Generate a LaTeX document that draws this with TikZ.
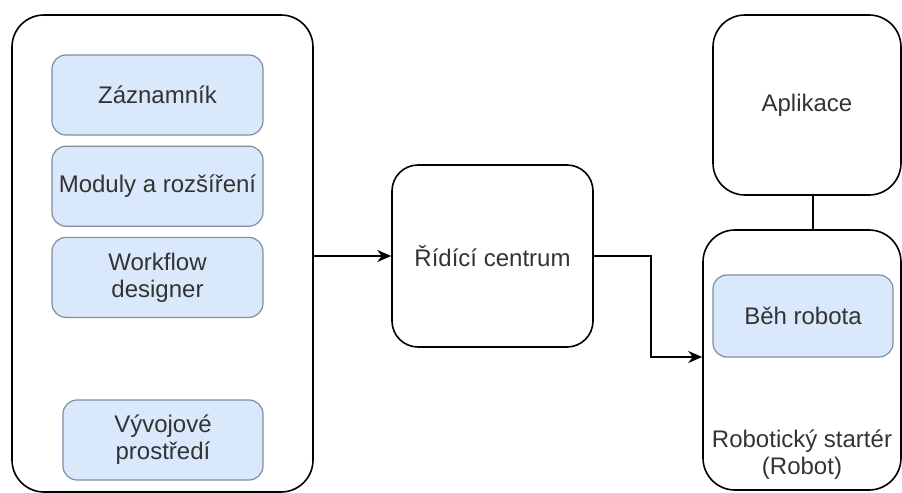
\documentclass[tikz,border=0pt]{standalone}
\usepackage{fontspec}
\setmainfont{Liberation Sans}
\usetikzlibrary{arrows.meta, positioning}

\definecolor{partfill}{HTML}{DAE8FC}
\definecolor{partline}{HTML}{7F8EA3}
\definecolor{labeltext}{HTML}{333333}

\begin{document}
\begin{tikzpicture}[
    x=0.5pt, y=-0.5pt,
    font=\fontsize{12}{13.5}\selectfont, text=labeltext,
    container/.style={draw, line width=0.8pt, rounded corners=16pt},
    part/.style={draw=partline, fill=partfill, line width=0.6pt, rounded corners=7pt,
                 inner xsep=1pt, minimum width=105.5pt, minimum height=40pt, align=center},
    >={Stealth[length=7pt, width=6pt]}
]
\useasboundingbox (0,0) rectangle (902,493);

% Nodes
\node[container, minimum width=150.5pt, minimum height=238.5pt] (studio) at (162.5,253.5) {};
\node[part] (zaznam) at (157.5,95) {Záznamník};
\node[part, below=5pt of zaznam] (moduly) {Moduly a rozšíření};
\node[part, below=5pt of moduly] (workflow) {Workflow\\designer};
\node[part, minimum width=100pt] (vyvoj) at (163,440) {Vývojové\\prostředí};

\node[container, rounded corners=13pt, minimum width=100.5pt, minimum height=91pt] (ridici) at (492.5,256) {Řídící centrum};

\node[container, minimum width=94pt, minimum height=90pt] (aplikace) at (807,105) {Aplikace};
\node[container, minimum width=99pt, minimum height=130pt,
      label={[align=center, anchor=south, yshift=2pt]south:Robotický startér\\(Robot)}] (robot) at (802,360) {};
\node[part, minimum width=90pt, minimum height=41pt] (beh) at (803,316) {Běh robota};

% Connectors
\draw[->, line width=0.8pt] (studio.east |- ridici.west) -- (ridici.west);
\draw[->, line width=0.8pt] (ridici.east) -- ++(28.5pt,0) |- ([yshift=1.5pt]robot.west);
\draw[line width=0.8pt] ([xshift=3pt]aplikace.south) -- ([xshift=3pt]aplikace.south |- robot.north);

\end{tikzpicture}
\end{document}
